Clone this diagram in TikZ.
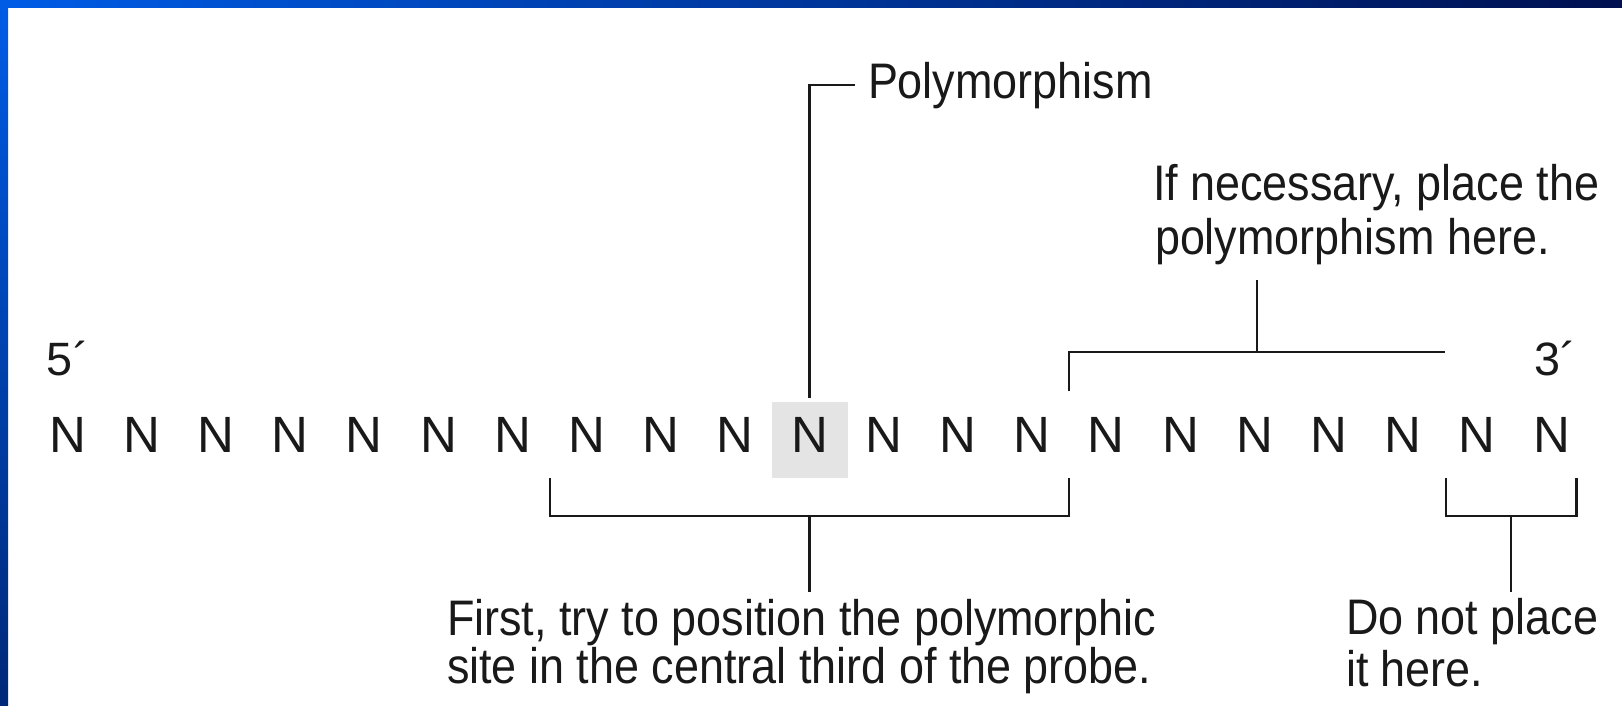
\documentclass[tikz,border=0pt]{standalone}
\usepackage{fontspec}
\setmainfont{Liberation Sans}
\newfontfamily\labfont[FakeStretch=0.9]{Liberation Sans}
\usetikzlibrary{calc,backgrounds}
\definecolor{barA}{RGB}{0,92,230}
\definecolor{barB}{RGB}{0,16,80}
\definecolor{barC}{RGB}{0,40,120}
\definecolor{hlgray}{RGB}{228,228,228}
\definecolor{ink}{RGB}{25,25,25}
\begin{document}
\begin{tikzpicture}[x=0.01cm,y=-0.01cm,
  plain/.style={inner sep=0pt, outer sep=0pt, text=ink},
  letter/.style={plain, anchor=base, font=\fontsize{14.5}{17}\selectfont},
  lab/.style={plain, anchor=base west, font=\labfont\fontsize{14.2}{17}\selectfont},
  strandend/.style={plain, anchor=base west, font=\fontsize{13.3}{16}\selectfont},
  wire/.style={draw=ink, line width=0.6pt}]
\useasboundingbox (0,0) rectangle (1622,705);

% frame bars
\shade[left color=barA, right color=barB] (0,0) rectangle (1622,7);
\shade[top color=barA, bottom color=barC] (0,0) rectangle (8,705);

% probe sequence
\foreach \i in {0,...,20}
  \node[letter] (n\i) at ({67.5+74.2*\i},452) {N};

\begin{scope}[on background layer]
  \fill[white] (0,0) rectangle (1622,705);
  \fill[hlgray] ($(n10.base)+(-38,-50)$) rectangle ($(n10.base)+(38,26)$);
\end{scope}

% strand ends
\node[strandend] (five) at (47,375) {5´};
\node[strandend] (three) at (1534,375) {3´};

% polymorphic site
\node[lab] (poly) at (868,98) {Polymorphism};
\draw[wire] ($(n10.base)+(0,-54)$) |- ($(poly.west)+(-13,0)$);

% acceptable region
\node[lab] (nec1) at (1153,200) {If necessary, place the};
\node[lab] (nec2) at (1155,254) {polymorphism here.};
\coordinate (tL) at ($(n13.base)!0.5!(n14.base)+(0,-61)$);
\coordinate (tC) at ($(tL)+(0,-39)$);
\coordinate (tR) at ($(n19.base)+(-32,-100)$);
\draw[wire] (tL) -- (tC) -- (tR);
\draw[wire] ($(tC)!0.5!(tR)$) -- ($(tC)!0.5!(tR)+(0,-72)$);

% central third
\node[lab] (first1) at (447,635) {First, try to position the polymorphic};
\node[lab] (first2) at (447,683) {site in the central third of the probe.};
\coordinate (bL) at ($(n6.base)!0.5!(n7.base)+(0,26)$);
\coordinate (bR) at ($(n13.base)!0.5!(n14.base)+(0,26)$);
\draw[wire] (bL) -- ++(0,38) -| (bR);
\draw[wire] ($(bL)!0.5!(bR)+(0,38)$) -- ++(0,76);

% forbidden end
\node[lab] (dont1) at (1346,634) {Do not place};
\node[lab] (dont2) at (1346,686) {it here.};
\coordinate (cL) at ($(n19.base)+(-31,26)$);
\coordinate (cR) at ($(n20.base)+(25,26)$);
\draw[wire] (cL) -- ++(0,38) -| (cR);
\draw[wire] ($(cL)!0.5!(cR)+(0,38)$) -- ++(0,76);
\end{tikzpicture}
\end{document}
